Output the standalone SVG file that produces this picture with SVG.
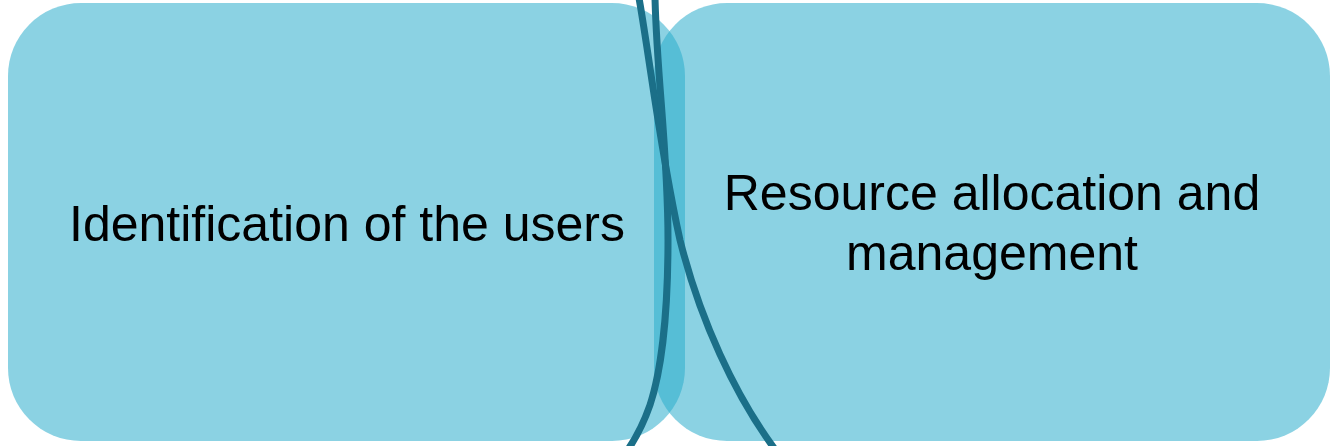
<svg xmlns="http://www.w3.org/2000/svg" width="1333" height="446" viewBox="0 0 1333 446">
  <style>
    .box { fill: #2CADCC; fill-opacity: 0.55; }
    .lbl { font-family: "Liberation Sans", Arial, sans-serif; font-size: 50px; fill: #000000; text-anchor: middle; }
    .curve { fill: none; stroke: #1B6F88; stroke-width: 7; stroke-linecap: butt; }
  </style>
  <rect width="1333" height="446" fill="#FFFFFF"/>
  <g id="node-identification">
    <rect class="box" x="8" y="3" width="677" height="438" rx="73" ry="73"/>
    <text class="lbl" x="347" y="241">Identification of the users</text>
  </g>
  <g id="node-resource">
    <rect class="box" x="654" y="3" width="676" height="438" rx="73" ry="73"/>
    <text class="lbl" x="992" y="210">Resource allocation and</text>
    <text class="lbl" x="992" y="270">management</text>
  </g>
  <g id="connectors">
    <path class="curve" d="M639,-2 C650,60 660,150 680,240 C700,320 735,395 774,448"/>
    <path class="curve" d="M655,-2 C657,80 668,150 668,240 C668,320 660,375 650,405 C643,425 637,436 629,448"/>
  </g>
</svg>
